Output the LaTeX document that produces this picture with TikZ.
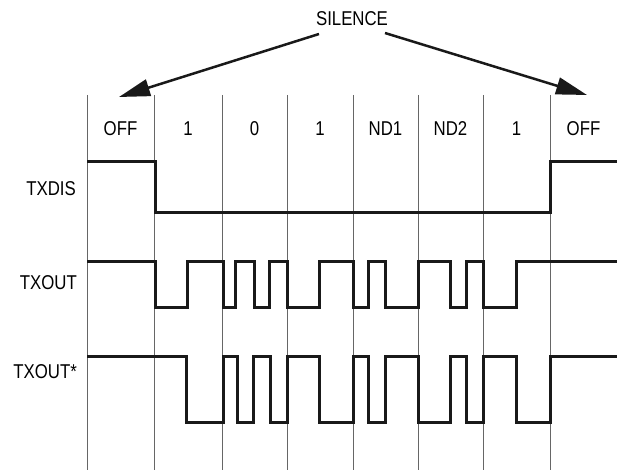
\documentclass[tikz,border=0pt]{standalone}
\usepackage{fontspec}
\setmainfont[FakeStretch=0.84]{Liberation Sans}
\usetikzlibrary{arrows.meta}
\begin{document}
\begin{tikzpicture}[x=1pt,y=-1pt,
  grid/.style={draw=black!60, line width=1pt},
  wave/.style={draw=black!90, line width=3pt, line join=miter, line cap=butt},
  lbl/.style={font=\fontsize{20}{24}\selectfont, inner sep=0pt},
  silarrow/.style={draw=black!90, line width=2.5pt, -{Triangle[length=31pt,width=17pt]}}]
\useasboundingbox (0,0) rectangle (617,470);
% grid
\foreach \x [count=\i] in {87,154,222,287,353,418,483,550}
  \draw[grid] (\x,95) coordinate (g\i) -- (\x,470);
% column labels
\node[lbl, anchor=base] (c1) at (120.5,136) {OFF};
\node[lbl, anchor=base] (c2) at (188,136) {1};
\node[lbl, anchor=base] (c3) at (254.5,136) {0};
\node[lbl, anchor=base] (c4) at (320,136) {1};
\node[lbl, anchor=base] (c5) at (385.5,136) {ND1};
\node[lbl, anchor=base] (c6) at (450.5,136) {ND2};
\node[lbl, anchor=base] (c7) at (516.5,136) {1};
\node[lbl, anchor=base] (c8) at (583.5,136) {OFF};
% row labels
\node[lbl, anchor=base east] (txdis) at (76,195) {TXDIS};
\node[lbl, anchor=base east] (txout) at (77,289) {TXOUT};
\node[lbl, anchor=base east] (txoutn) at (77,378) {TXOUT*};
% silence
\node[lbl, anchor=base] (sil) at (352,26) {SILENCE};
\coordinate (sl) at (319,34);
\coordinate (sr) at (385,33);
\coordinate (tl) at (119,97);
\coordinate (tr) at (587,95);
\draw[silarrow] (sl) -- (tl);
\draw[silarrow] (sr) -- (tr);
% TXDIS
\draw[wave] (87,162) -- (155,162) -- (155,212) -- (550,212) -- (550,162) -- (617,162);
% TXOUT
\def\hi{261}\def\lo{307}
\draw[wave] (87,\hi) -- (155,\hi) -- (155,\lo) -- (187,\lo) -- (187,\hi) -- (223,\hi)
  -- (223,\lo) -- (235,\lo) -- (235,\hi) -- (254,\hi) -- (254,\lo) -- (269,\lo)
  -- (269,\hi) -- (287,\hi) -- (287,\lo) -- (319,\lo) -- (319,\hi) -- (353,\hi)
  -- (353,\lo) -- (368,\lo) -- (368,\hi) -- (385,\hi) -- (385,\lo) -- (418,\lo)
  -- (418,\hi) -- (450,\hi) -- (450,\lo) -- (466,\lo) -- (466,\hi) -- (483,\hi)
  -- (483,\lo) -- (516,\lo) -- (516,\hi) -- (617,\hi);
% TXOUT*
\def\hi{356}\def\lo{422}
\draw[wave] (87,\hi) -- (186,\hi) -- (186,\lo) -- (223,\lo) -- (223,\hi) -- (237,\hi)
  -- (237,\lo) -- (253,\lo) -- (253,\hi) -- (270,\hi) -- (270,\lo) -- (287,\lo)
  -- (287,\hi) -- (319,\hi) -- (319,\lo) -- (353,\lo) -- (353,\hi) -- (368,\hi)
  -- (368,\lo) -- (385,\lo) -- (385,\hi) -- (418,\hi) -- (418,\lo) -- (450,\lo)
  -- (450,\hi) -- (466,\hi) -- (466,\lo) -- (483,\lo) -- (483,\hi) -- (516,\hi)
  -- (516,\lo) -- (550,\lo) -- (550,\hi) -- (617,\hi);
\end{tikzpicture}
\end{document}
